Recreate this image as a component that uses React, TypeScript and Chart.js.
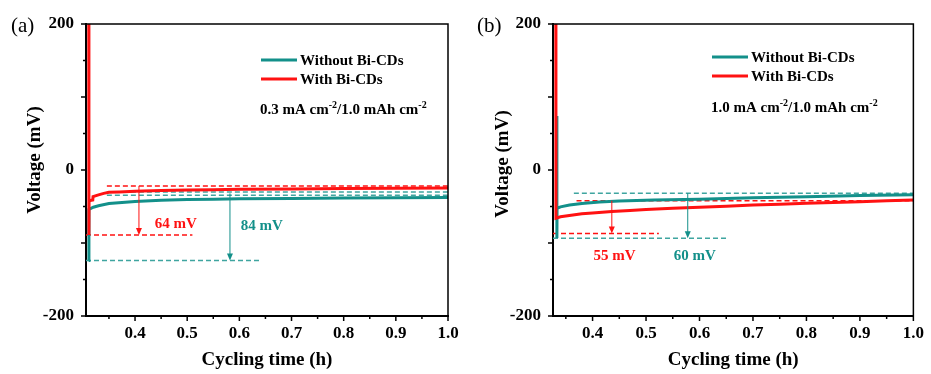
import React, { useEffect, useRef } from "react";
import { Chart, registerables } from "chart.js";
Chart.register(...registerables);

const SERIF = "'Liberation Serif', 'Times New Roman', serif";
const TEAL = "#13908a";
const TEAL_LIGHT = "#3fa5a0";
const RED = "#ff1212";

const seriesNames = ["Without Bi-CDs", "With Bi-CDs"];
const xTitle = "Cycling time (h)";
const yTitle = "Voltage (mV)";
const xTickValues = [0.35, 0.4, 0.45, 0.5, 0.55, 0.6, 0.65, 0.7, 0.75, 0.8, 0.85, 0.9, 0.95, 1.0];
const xMajorTicks = [0.4, 0.5, 0.6, 0.7, 0.8, 0.9, 1.0];
const yTickValues = [-200, -150, -100, -50, 0, 50, 100, 150, 200];
const yLabeledTicks = [-200, 0, 200];

// ---- Panel (a): 0.3 mA cm-2 / 1.0 mAh cm-2
const timeWithoutA = [0.3112, 0.3116, 0.32, 0.33, 0.35, 0.4, 0.45, 0.5, 0.55, 0.6, 0.7, 0.8, 0.9, 1.0];
const voltWithoutA = [-124, -54, -51, -49, -46, -43, -41.5, -40.5, -40, -39.5, -39, -38.5, -38, -37.5];
const timeWithA = [0.3113, 0.3116, 0.3119, 0.319, 0.3195, 0.33, 0.34, 0.35, 0.37, 0.4, 0.45, 0.5, 0.55, 0.6, 0.7, 0.8, 0.9, 1.0];
const voltWithA = [260, -89, -42, -41, -36.5, -34, -32, -30.5, -30, -29, -28, -27.5, -27, -26.5, -26, -25.5, -25, -24.5];
const dashXA = [[0.346, 1.0], [0.306, 0.51], [0.346, 1.0], [0.346, 1.0], [0.306, 0.64]];
const dashYA = [-22, -89, -30, -34.5, -124];
const dashSeriesA = [1, 1, 0, 0, 0];
const arrowXA = [0.4075, 0.582];
const arrowFromA = [-22, -32];
const arrowToA = [-89, -124];
const arrowSeriesA = [1, 0];
const diffTextA = ["64 mV", "84 mV"];
const diffXA = [0.478, 0.643];
const diffYA = [-74, -77];

// ---- Panel (b): 1.0 mA cm-2 / 1.0 mAh cm-2
const timeWithoutB = [0.333, 0.3333, 0.3336, 0.34, 0.357, 0.38, 0.413, 0.45, 0.515, 0.6, 0.7, 0.8, 0.9, 1.0];
const voltWithoutB = [74, -93, -52.5, -50.5, -48, -46, -44, -42.5, -41, -40, -38, -36.5, -35, -34];
const timeWithB = [0.3312, 0.3315, 0.34, 0.36, 0.38, 0.4, 0.436, 0.47, 0.5, 0.55, 0.6, 0.65, 0.7, 0.75, 0.8, 0.85, 0.9, 0.95, 1.0];
const voltWithB = [260, -66, -64, -62, -60, -59, -57, -55.5, -54, -52.5, -51, -49.5, -48, -47, -45.5, -44.5, -43.5, -42, -41];
const dashXB = [[0.365, 1.0], [0.37, 1.0], [0.326, 0.524], [0.326, 0.654]];
const dashYB = [-32, -42, -87, -93.5];
const dashSeriesB = [0, 1, 1, 0];
const arrowXB = [0.436, 0.578];
const arrowFromB = [-42, -32];
const arrowToB = [-87, -93.5];
const arrowSeriesB = [1, 0];
const diffTextB = ["55 mV", "60 mV"];
const diffXB = [0.441, 0.591];
const diffYB = [-118, -118];

const colorOf = (s: number) => (s === 1 ? RED : TEAL);
const dashColorOf = (s: number) => (s === 1 ? RED : TEAL_LIGHT);
const zip = (xs: number[], ys: number[]) => xs.map((x, i) => ({ x, y: ys[i] }));
const near = (a: number, b: number) => Math.abs(a - b) < 1e-6;

type Panel = {
  tag: string;
  condition: [string, string, string, string];
  xMin: number;
  yAxisWidth: number;
  padRight: number;
  yTitleX: number;
  yTitleY: number;
  legendX: number;
  legendY: number;
  condX: number;
  condY: number;
  timeWithout: number[];
  voltWithout: number[];
  timeWith: number[];
  voltWith: number[];
  dashX: number[][];
  dashY: number[];
  dashSeries: number[];
  arrowX: number[];
  arrowFrom: number[];
  arrowTo: number[];
  arrowSeries: number[];
  diffText: string[];
  diffX: number[];
  diffY: number[];
};

const panelA: Panel = {
  tag: "(a)",
  condition: ["0.3 mA cm", "-2", "/1.0 mAh cm", "-2"],
  xMin: 0.306,
  yAxisWidth: 86,
  padRight: 18,
  yTitleX: 35,
  yTitleY: 160,
  legendX: 261,
  legendY: 60,
  condX: 260,
  condY: 109,
  timeWithout: timeWithoutA,
  voltWithout: voltWithoutA,
  timeWith: timeWithA,
  voltWith: voltWithA,
  dashX: dashXA,
  dashY: dashYA,
  dashSeries: dashSeriesA,
  arrowX: arrowXA,
  arrowFrom: arrowFromA,
  arrowTo: arrowToA,
  arrowSeries: arrowSeriesA,
  diffText: diffTextA,
  diffX: diffXA,
  diffY: diffYA,
};

const panelB: Panel = {
  tag: "(b)",
  condition: ["1.0 mA cm", "-2", "/1.0 mAh cm", "-2"],
  xMin: 0.326,
  yAxisWidth: 87,
  padRight: 14,
  yTitleX: 37,
  yTitleY: 164,
  legendX: 246,
  legendY: 57,
  condX: 245,
  condY: 107,
  timeWithout: timeWithoutB,
  voltWithout: voltWithoutB,
  timeWith: timeWithB,
  voltWith: voltWithB,
  dashX: dashXB,
  dashY: dashYB,
  dashSeries: dashSeriesB,
  arrowX: arrowXB,
  arrowFrom: arrowFromB,
  arrowTo: arrowToB,
  arrowSeries: arrowSeriesB,
  diffText: diffTextB,
  diffX: diffXB,
  diffY: diffYB,
};

function makeConfig(p: Panel): any {
  const datasets: any[] = [
    {
      label: seriesNames[1],
      data: zip(p.timeWith, p.voltWith),
      borderColor: RED,
      backgroundColor: RED,
      borderWidth: 3,
      pointRadius: 0,
      order: 1,
    },
    {
      label: seriesNames[0],
      data: zip(p.timeWithout, p.voltWithout),
      borderColor: TEAL,
      backgroundColor: TEAL,
      borderWidth: 3,
      pointRadius: 0,
      order: 2,
    },
  ];
  p.dashX.forEach((xs, i) => {
    datasets.push({
      label: "ref" + i,
      data: xs.map((x) => ({ x, y: p.dashY[i] })),
      borderColor: dashColorOf(p.dashSeries[i]),
      borderWidth: 1.5,
      borderDash: [5, 3],
      pointRadius: 0,
      order: 3,
    });
  });

  const overlay = {
    id: "overlay",
    afterDraw(chart: any) {
      const { ctx, chartArea, scales } = chart;
      const { left, right, top, bottom } = chartArea;
      const x = scales.x;
      const y = scales.y;
      ctx.save();
      // frame top/right
      ctx.strokeStyle = "#000";
      ctx.lineWidth = 1.5;
      ctx.beginPath();
      ctx.moveTo(left, top);
      ctx.lineTo(right, top);
      ctx.lineTo(right, bottom);
      ctx.stroke();
      // tick marks
      xTickValues.forEach((v) => {
        const px = x.getPixelForValue(v);
        const len = xMajorTicks.some((m) => near(m, v)) ? 5 : 3;
        ctx.beginPath();
        ctx.moveTo(px, bottom);
        ctx.lineTo(px, bottom + len);
        ctx.stroke();
      });
      yTickValues.forEach((v) => {
        const py = y.getPixelForValue(v);
        const len = v % 100 === 0 ? 5 : 3;
        ctx.beginPath();
        ctx.moveTo(left, py);
        ctx.lineTo(left - len, py);
        ctx.stroke();
      });
      // arrows
      p.arrowX.forEach((ax, i) => {
        const px = x.getPixelForValue(ax);
        const y1 = y.getPixelForValue(p.arrowFrom[i]);
        const y2 = y.getPixelForValue(p.arrowTo[i]);
        const c = colorOf(p.arrowSeries[i]);
        ctx.strokeStyle = c;
        ctx.fillStyle = c;
        ctx.lineWidth = 1;
        ctx.beginPath();
        ctx.moveTo(px, y1);
        ctx.lineTo(px, y2 - 5);
        ctx.stroke();
        ctx.beginPath();
        ctx.moveTo(px, y2);
        ctx.lineTo(px - 3, y2 - 7);
        ctx.lineTo(px + 3, y2 - 7);
        ctx.closePath();
        ctx.fill();
      });
      // difference labels
      ctx.font = `bold 15px ${SERIF}`;
      ctx.textAlign = "center";
      ctx.textBaseline = "middle";
      p.diffText.forEach((t, i) => {
        ctx.fillStyle = colorOf(p.arrowSeries[i]);
        ctx.fillText(t, x.getPixelForValue(p.diffX[i]), y.getPixelForValue(p.diffY[i]));
      });
      // legend
      ctx.textAlign = "left";
      ctx.lineWidth = 3;
      [0, 1].forEach((s, i) => {
        const ly = p.legendY + i * 19;
        ctx.strokeStyle = colorOf(s);
        ctx.beginPath();
        ctx.moveTo(p.legendX, ly);
        ctx.lineTo(p.legendX + 36, ly);
        ctx.stroke();
        ctx.fillStyle = "#000";
        ctx.fillText(seriesNames[s], p.legendX + 39, ly + 1);
      });
      // condition text with superscripts
      let cx = p.condX;
      const cy = p.condY + 5;
      ctx.textBaseline = "alphabetic";
      p.condition.forEach((part, i) => {
        const sup = i % 2 === 1;
        ctx.font = sup ? `bold 10px ${SERIF}` : `bold 15px ${SERIF}`;
        ctx.fillText(part, cx, sup ? cy - 6 : cy);
        cx += ctx.measureText(part).width;
      });
      // panel tag
      ctx.font = `21px ${SERIF}`;
      ctx.textBaseline = "middle";
      ctx.fillText(p.tag, 11, 26);
      // y-axis title
      ctx.save();
      ctx.translate(p.yTitleX, p.yTitleY);
      ctx.rotate(-Math.PI / 2);
      ctx.font = `bold 19px ${SERIF}`;
      ctx.textAlign = "center";
      ctx.textBaseline = "middle";
      ctx.fillText(yTitle, 0, 0);
      ctx.restore();
      ctx.restore();
    },
  };

  return {
    type: "line",
    data: { datasets },
    options: {
      animation: false,
      responsive: false,
      events: [],
      layout: { padding: { left: 0, top: 24, right: p.padRight, bottom: 0 } },
      plugins: { legend: { display: false }, tooltip: { enabled: false } },
      scales: {
        x: {
          type: "linear",
          min: p.xMin,
          max: 1.0,
          afterFit: (s: any) => {
            s.height = 58;
          },
          afterBuildTicks: (s: any) => {
            s.ticks = xTickValues.map((v) => ({ value: v }));
          },
          grid: { display: false, drawTicks: false },
          border: { display: true, color: "#000", width: 2 },
          ticks: {
            padding: 7,
            color: "#000",
            autoSkip: false,
            maxRotation: 0,
            font: { family: SERIF, size: 17, weight: "bold" },
            callback: (v: number) => (xMajorTicks.some((m) => near(m, v)) ? v.toFixed(1) : ""),
          },
          title: {
            display: true,
            text: xTitle,
            color: "#000",
            font: { family: SERIF, size: 19, weight: "bold" },
            padding: { top: 0, bottom: 2.6 },
          },
        },
        y: {
          type: "linear",
          min: -200,
          max: 200,
          afterFit: (s: any) => {
            s.width = p.yAxisWidth;
          },
          afterBuildTicks: (s: any) => {
            s.ticks = yTickValues.map((v) => ({ value: v }));
          },
          grid: { display: false, drawTicks: false },
          border: { display: true, color: "#000", width: 2 },
          ticks: {
            padding: 12,
            color: "#000",
            autoSkip: false,
            font: { family: SERIF, size: 17, weight: "bold" },
            callback: (v: number) => (yLabeledTicks.includes(v) ? String(v) : ""),
          },
          title: { display: false },
        },
      },
    },
    plugins: [overlay],
  };
}

function PanelChart({ panel, left, width }: { panel: Panel; left: number; width: number }) {
  const ref = useRef<HTMLCanvasElement | null>(null);
  useEffect(() => {
    if (!ref.current) return;
    const chart = new Chart(ref.current, makeConfig(panel));
    return () => chart.destroy();
  }, [panel]);
  return (
    <canvas
      ref={ref}
      width={width}
      height={374}
      style={{ position: "absolute", left, top: 0, width, height: 374, display: "block" }}
    />
  );
}

export default function App() {
  return (
    <div
      style={{
        position: "fixed",
        left: 0,
        top: 0,
        width: 931,
        height: 374,
        background: "#fff",
        overflow: "hidden",
      }}
    >
      <PanelChart panel={panelA} left={0} width={466} />
      <PanelChart panel={panelB} left={466} width={465} />
    </div>
  );
}
